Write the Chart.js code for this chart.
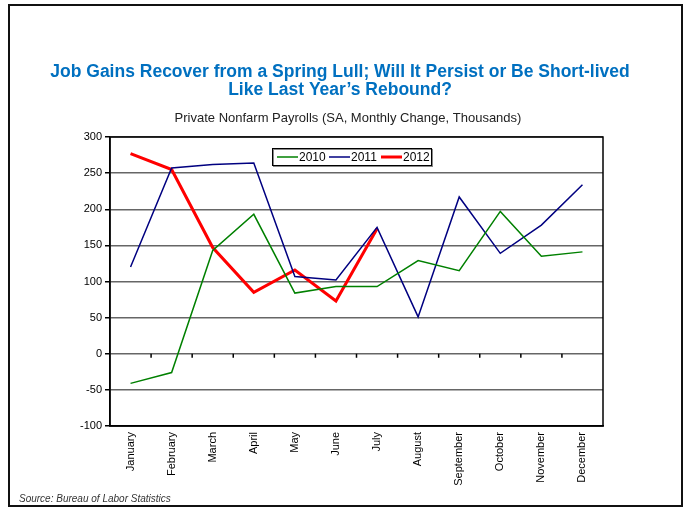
<!DOCTYPE html>
<html>
<head>
<meta charset="utf-8">
<script src="https://cdn.jsdelivr.net/npm/chart.js@4/dist/chart.umd.min.js"></script>
<style>
  html, body { margin: 0; padding: 0; background: #fff; }
  #wrap { width: 684px; height: 508px; }
</style>
</head>
<body>
<div id="wrap"><canvas id="payrolls-chart" width="684" height="508"></canvas></div>
<script>
const months = ["January", "February", "March", "April", "May", "June", "July",
  "August", "September", "October", "November", "December"];
const jobs2010 = [-41, -26, 143, 193, 84, 93, 93, 129, 115, 197, 135, 141];
const jobs2011 = [120, 257, 262, 264, 107, 102, 175, 51, 217, 139, 178, 234];
const jobs2012 = [277, 255, 147, 85, 116, 73, 173];
const yTicks = [-100, -50, 0, 50, 100, 150, 200, 250, 300];

const titleLines = ["Job Gains Recover from a Spring Lull; Will It Persist or Be Short-lived",
  "Like Last Year\u2019s Rebound?"];
const subtitle = "Private Nonfarm Payrolls (SA, Monthly Change, Thousands)";
const source = "Source: Bureau of Labor Statistics";
const font = "'Liberation Sans', Arial, sans-serif";

// frame, titles, source note, zero line ticks, legend box
const decorations = {
  id: "decorations",
  afterDraw(chart) {
    const ctx = chart.ctx;
    const area = chart.chartArea;
    const x = chart.scales.x;
    const y = chart.scales.y;
    ctx.save();

    ctx.strokeStyle = "#111";
    ctx.lineWidth = 2;
    ctx.strokeRect(9, 5, 673, 501);

    ctx.fillStyle = "#0070C0";
    ctx.font = "bold 17.5px " + font;
    ctx.textAlign = "center";
    ctx.textBaseline = "middle";
    ctx.fillText(titleLines[0], 340, 72);
    ctx.fillText(titleLines[1], 340, 90);

    ctx.fillStyle = "#222";
    ctx.font = "13px " + font;
    ctx.fillText(subtitle, 348, 118);

    ctx.textAlign = "left";
    ctx.font = "italic 10px " + font;
    ctx.fillStyle = "#333";
    ctx.fillText(source, 19, 499);

    // plot border
    ctx.strokeStyle = "#000";
    ctx.lineWidth = 1.5;
    ctx.strokeRect(area.left, area.top, area.right - area.left, area.bottom - area.top);

    // tick marks on the zero line between months
    const y0 = y.getPixelForValue(0);
    ctx.lineWidth = 1.5;
    ctx.beginPath();
    for (let i = 0; i < months.length - 1; i++) {
      const px = (x.getPixelForValue(i) + x.getPixelForValue(i + 1)) / 2;
      ctx.moveTo(px, y0);
      ctx.lineTo(px, y0 + 4);
    }
    ctx.stroke();

    // legend
    const lx = 272, ly = 148, lw = 159, lh = 17;
    ctx.fillStyle = "#fff";
    ctx.fillRect(lx, ly, lw, lh);
    ctx.strokeStyle = "#888";
    ctx.lineWidth = 1;
    ctx.strokeRect(lx + 1.5, ly + 1.5, lw, lh);
    ctx.strokeStyle = "#000";
    ctx.strokeRect(lx + 0.5, ly + 0.5, lw, lh);
    ctx.font = "12px " + font;
    ctx.textBaseline = "middle";
    let cx = lx + 5;
    chart.data.datasets.forEach(ds => {
      ctx.strokeStyle = ds.borderColor;
      ctx.lineWidth = ds.borderWidth;
      ctx.beginPath();
      ctx.moveTo(cx, ly + lh / 2 + 0.5);
      ctx.lineTo(cx + 21, ly + lh / 2 + 0.5);
      ctx.stroke();
      ctx.fillStyle = "#000";
      ctx.fillText(ds.label, cx + 22, ly + lh / 2 + 1);
      cx += 52;
    });

    ctx.restore();
  }
};

function createPayrollChart(name) {
  const ctx = document.getElementById(name).getContext("2d");
  new Chart(ctx, {
    type: "line",
    data: {
      labels: months,
      datasets: [
        { label: "2010", data: jobs2010, borderColor: "#008000", borderWidth: 1.5 },
        { label: "2011", data: jobs2011, borderColor: "#000080", borderWidth: 1.5 },
        { label: "2012", data: jobs2012, borderColor: "#FF0000", borderWidth: 3 }
      ]
    },
    options: {
      responsive: false,
      animation: false,
      devicePixelRatio: 1,
      layout: { padding: { left: 0, top: 137, right: 81, bottom: 0 } },
      elements: {
        point: { radius: 0, hoverRadius: 0 },
        line: { tension: 0, fill: false, borderJoinStyle: "miter" }
      },
      plugins: {
        legend: { display: false },
        title: { display: false },
        tooltip: { enabled: false }
      },
      scales: {
        x: {
          offset: true,
          grid: { display: false },
          border: { display: true, color: "#000", width: 1.5 },
          ticks: {
            autoSkip: false,
            maxRotation: 90,
            minRotation: 90,
            padding: -2,
            color: "#000",
            font: { family: font, size: 11 }
          },
          afterFit(scale) { scale.height = 82; }
        },
        y: {
          min: -100,
          max: 300,
          afterBuildTicks(scale) { scale.ticks = yTicks.map(v => ({ value: v })); },
          grid: { color: "#666", lineWidth: 1.5, tickLength: 5, tickColor: "#000" },
          border: { display: true, color: "#000", width: 1.5 },
          ticks: {
            padding: 3,
            color: "#000",
            font: { family: font, size: 11 }
          },
          afterFit(scale) { scale.width = 110; }
        }
      }
    },
    plugins: [decorations]
  });
}

createPayrollChart("payrolls-chart");
</script>
</body>
</html>
